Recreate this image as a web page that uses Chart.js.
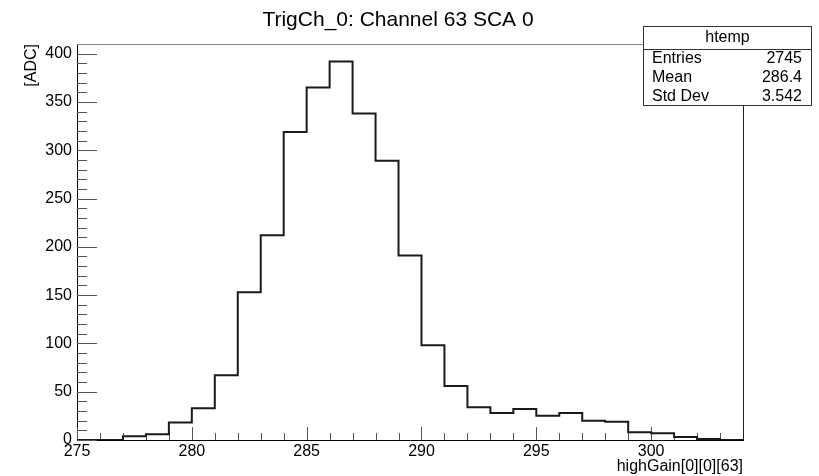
<!DOCTYPE html>
<html><head><meta charset="utf-8">
<script src="https://cdn.jsdelivr.net/npm/chart.js@4.4.0/dist/chart.umd.min.js"></script>
<style>html,body{margin:0;padding:0;background:#fff;overflow:hidden}#wrap{width:819px;height:476px}</style>
</head><body><div id="wrap"><canvas id="c" width="819" height="476"></canvas></div>
<script>
const chartTitle = 'TrigCh_0: Channel 63 SCA 0';
const xAxisTitle = 'highGain[0][0][63]';
const yAxisTitle = '[ADC]';
const binLowEdges = [275,276,277,278,279,280,281,282,283,284,285,286,287,288,289,290,291,292,293,294,295,296,297,298,299,300,301,302,303];
const binCounts   = [0,0,4,6,18,33,67,153,212,319,365,392,338,289,191,98,56,34,28,32,25,28,20,19,8,7,3,1,0];
const xRange = [275, 304];
const yRange = [0, 410];
const xTickValues = [275,280,285,290,295,300];
const yTickValues = [0,50,100,150,200,250,300,350,400];
const statsTitle = 'htemp';
const statsLabels = ['Entries','Mean','Std Dev'];
const statsValues = ['2745','286.4','3.542'];

const FONT = "'Liberation Sans', Arial, Helvetica, sans-serif";

const points = binLowEdges.map((x, i) => ({x: x, y: binCounts[i]}));
points.push({x: xRange[1], y: 0});

const rootDecor = {
  id: 'rootDecor',
  beforeDatasetsDraw(chart) {
    const ctx = chart.ctx, a = chart.chartArea;
    const xs = chart.scales.x, ys = chart.scales.y;
    ctx.save();
    ctx.strokeStyle = '#555';
    ctx.lineWidth = 1;
    ctx.beginPath();
    for (let v = yRange[0]; v <= yRange[1]; v += 10) {
      const y = Math.round(ys.getPixelForValue(v)) + 0.5;
      const len = (v % 50 === 0) ? 20 : 10;
      ctx.moveTo(a.left, y); ctx.lineTo(a.left + len, y);
    }
    for (let v = xRange[0]; v <= xRange[1]; v += 1) {
      const x = Math.round(xs.getPixelForValue(v)) + 0.5;
      const len = (v % 5 === 0) ? 13 : 7;
      ctx.moveTo(x, a.bottom); ctx.lineTo(x, a.bottom - len);
    }
    ctx.stroke();
    // frame top and right
    ctx.strokeStyle = '#888';
    ctx.beginPath();
    ctx.moveTo(a.left, Math.round(a.top) + 0.5); ctx.lineTo(a.right, Math.round(a.top) + 0.5);
    ctx.stroke();
    ctx.strokeStyle = '#222';
    ctx.beginPath();
    ctx.moveTo(Math.round(a.right) + 0.5, a.top); ctx.lineTo(Math.round(a.right) + 0.5, a.bottom);
    ctx.stroke();
    ctx.restore();
  },
  afterDraw(chart) {
    const ctx = chart.ctx;
    ctx.save();
    // title
    ctx.fillStyle = '#000';
    ctx.font = '21px ' + FONT;
    ctx.textAlign = 'center';
    ctx.textBaseline = 'middle';
    ctx.fillText(chartTitle, 398, 20);
    // stats box
    const bx = 643.5, by = 26.5, bw = 168, bh = 79, div = 49.5;
    ctx.fillStyle = '#fff';
    ctx.fillRect(bx, by, bw, bh);
    ctx.strokeStyle = '#333';
    ctx.lineWidth = 1;
    ctx.strokeRect(bx, by, bw, bh);
    ctx.beginPath(); ctx.moveTo(bx, div); ctx.lineTo(bx + bw, div); ctx.stroke();
    ctx.fillStyle = '#000';
    ctx.font = '16px ' + FONT;
    ctx.textAlign = 'center';
    ctx.fillText(statsTitle, bx + bw / 2, 38);
    const rowH = (by + bh - div) / statsLabels.length;
    statsLabels.forEach((lab, i) => {
      const cy = div + rowH * (i + 0.5);
      ctx.textAlign = 'left';
      ctx.fillText(lab, 652, cy);
      ctx.textAlign = 'right';
      ctx.fillText(statsValues[i], 802, cy);
    });
    ctx.restore();
  }
};

new Chart(document.getElementById('c'), {
  type: 'line',
  data: {
    datasets: [{
      data: points,
      stepped: true,
      borderColor: '#1a1a1a',
      borderWidth: 2,
      pointRadius: 0,
      fill: false,
      tension: 0
    }]
  },
  options: {
    responsive: false,
    animation: false,
    devicePixelRatio: 1,
    layout: { padding: { top: 44, right: 76, left: 0, bottom: 0 } },
    plugins: { legend: { display: false }, title: { display: false }, tooltip: { enabled: false } },
    scales: {
      x: {
        type: 'linear', min: xRange[0], max: xRange[1],
        afterFit(s) { s.height = 36; },
        afterBuildTicks(s) { s.ticks = xTickValues.map(v => ({value: v})); },
        grid: { display: false, drawTicks: false },
        border: { display: true, color: '#000', width: 1 },
        ticks: { color: '#000', font: { family: FONT, size: 16 }, padding: 2, maxRotation: 0, autoSkip: false },
        title: { display: true, text: xAxisTitle, align: 'end', color: '#000', font: { family: FONT, size: 16 }, padding: { top: 0, bottom: 0 } }
      },
      y: {
        type: 'linear', min: yRange[0], max: yRange[1],
        afterFit(s) { s.width = 77; },
        afterBuildTicks(s) { s.ticks = yTickValues.map(v => ({value: v})); },
        grid: { display: false, drawTicks: false },
        border: { display: true, color: '#000', width: 1 },
        ticks: { color: '#000', font: { family: FONT, size: 16 }, padding: 5, autoSkip: false },
        title: { display: true, text: yAxisTitle, align: 'end', color: '#000', font: { family: FONT, size: 16 }, padding: { top: 22, bottom: 0 } }
      }
    }
  },
  plugins: [rootDecor]
});
</script>
</body></html>
